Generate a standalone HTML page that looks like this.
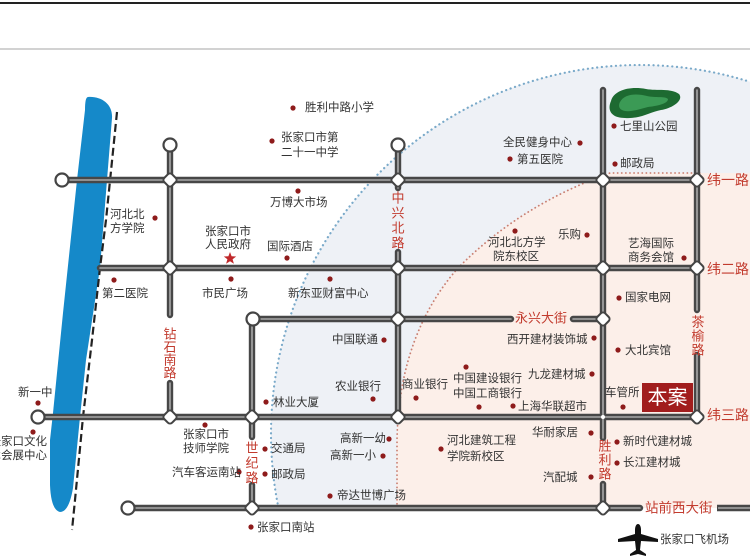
<!DOCTYPE html>
<html><head><meta charset="utf-8">
<style>
html,body{margin:0;padding:0;background:#fff;width:750px;height:560px;overflow:hidden;}
svg{display:block;position:absolute;left:0;top:0;}
.t{font-family:"Liberation Sans","Noto Sans CJK SC",sans-serif;font-size:11.5px;fill:#333;dominant-baseline:central;}
.r{font-family:"Liberation Sans","Noto Sans CJK SC",sans-serif;font-size:13px;fill:#c23b2e;dominant-baseline:central;}
.rv{font-family:"Liberation Sans","Noto Sans CJK SC",sans-serif;font-size:13px;fill:#c23b2e;dominant-baseline:central;text-anchor:middle;}
</style></head>
<body>
<svg width="750" height="560" viewBox="0 0 750 560" xmlns="http://www.w3.org/2000/svg" overflow="hidden">
<rect width="750" height="560" fill="#fff"/>
<!-- header lines -->
<rect x="0" y="2" width="750" height="2" fill="#222"/>
<rect x="0" y="48" width="750" height="2" fill="#d2d2d2"/>

<!-- regions -->
<path d="M278.5,508 A369,369 0 0,1 750,81.8 L750,508 Z" fill="#eef1f6"/>
<path d="M397,508 L397,440 Q399,335 458,268 Q520,205 610,173 L750,173 L750,508 Z" fill="#fcefe9"/>
<path d="M278.5,508 A369,369 0 0,1 750,81.8" fill="none" stroke="#79a9c9" stroke-width="2.2" stroke-linecap="round" stroke-dasharray="0.1 4.6"/>
<path d="M397,508 L397,440 Q399,335 458,268 Q520,205 610,173 L700,173" fill="none" stroke="#c98073" stroke-width="1.8" stroke-linecap="round" stroke-dasharray="0.1 4"/>

<!-- river -->
<path d="M88,97 C101,96 113,104 112,118 L107,180 L100,268 L86,360 L80,417 L73,488 Q69,512 60,512 Q51,510 50,485 L50,440 L53,413 L63,313 L77,180 L85,110 Q85,97 88,97 Z" fill="#1589c9"/>
<polyline points="117,112 106,220 100,268 92,340 83,417 75,500 72,530" fill="none" stroke="#222" stroke-width="2.2" stroke-dasharray="8 4"/>

<!-- park -->
<path d="M611,101 C614,90 630,86 646,89 C657,91 671,88 679,94 C684,100 673,108 661,110 C650,112 641,119 625,118 C611,118 607,110 611,101 Z" fill="#1d6a31"/>
<path d="M620,102 C624,94 636,93 647,96 C656,98 665,96 668,99 C668,104 656,106 648,107 C640,109 632,112 625,111 C619,110 618,106 620,102 Z" fill="#3b9a55"/>

<!-- roads -->
<g fill="none" stroke="#474747" stroke-width="6.4" stroke-linecap="round">
<path d="M62,180 H697 M100,268 H697 M253,319 H511 M573,319 H603 M38,417 H697 M128,508 H640"/>
<path d="M170,145 V315 M170,383 V417 M252,319 V437 M252,485 V508 M398,145 V188 M398,252 V417 M603,90 V438 M603,484 V508 M697,90 V310 M697,355 V417"/>
</g>
<path d="M717,508 H750" fill="none" stroke="#474747" stroke-width="6.4"/>
<g fill="none" stroke="#a9a9a9" stroke-width="1.6" stroke-linecap="round">
<path d="M62,180 H697 M100,268 H697 M253,319 H511 M573,319 H603 M38,417 H697 M128,508 H640"/>
<path d="M170,145 V315 M170,383 V417 M252,319 V437 M252,485 V508 M398,145 V188 M398,252 V417 M603,90 V438 M603,484 V508 M697,90 V310 M697,355 V417"/>
</g>
<path d="M718,508 H750" fill="none" stroke="#a9a9a9" stroke-width="1.6"/>

<!-- end circles -->
<g fill="#fff" stroke="#444" stroke-width="2.2">
<circle cx="62" cy="180" r="6.5"/>
<circle cx="170" cy="145" r="6.5"/>
<circle cx="398" cy="145" r="6.5"/>
<circle cx="253" cy="319" r="6.5"/>
<circle cx="38" cy="417" r="6.5"/>
<circle cx="128" cy="508" r="6.5"/>
</g>
<!-- diamonds -->
<g fill="#fff" stroke="#444" stroke-width="2">
<rect x="-5.5" y="-5.5" width="11" height="11" rx="3" transform="translate(170,180) rotate(45)"/>
<rect x="-5.5" y="-5.5" width="11" height="11" rx="3" transform="translate(398,180) rotate(45)"/>
<rect x="-5.5" y="-5.5" width="11" height="11" rx="3" transform="translate(603,180) rotate(45)"/>
<rect x="-5.5" y="-5.5" width="11" height="11" rx="3" transform="translate(697,180) rotate(45)"/>
<rect x="-5.5" y="-5.5" width="11" height="11" rx="3" transform="translate(170,268) rotate(45)"/>
<rect x="-5.5" y="-5.5" width="11" height="11" rx="3" transform="translate(398,268) rotate(45)"/>
<rect x="-5.5" y="-5.5" width="11" height="11" rx="3" transform="translate(603,268) rotate(45)"/>
<rect x="-5.5" y="-5.5" width="11" height="11" rx="3" transform="translate(697,268) rotate(45)"/>
<rect x="-5.5" y="-5.5" width="11" height="11" rx="3" transform="translate(398,319) rotate(45)"/>
<rect x="-5.5" y="-5.5" width="11" height="11" rx="3" transform="translate(603,319) rotate(45)"/>
<rect x="-5.5" y="-5.5" width="11" height="11" rx="3" transform="translate(170,417) rotate(45)"/>
<rect x="-5.5" y="-5.5" width="11" height="11" rx="3" transform="translate(252,417) rotate(45)"/>
<rect x="-5.5" y="-5.5" width="11" height="11" rx="3" transform="translate(398,417) rotate(45)"/>
<rect x="-5.5" y="-5.5" width="11" height="11" rx="3" transform="translate(697,417) rotate(45)"/>
<rect x="-5.5" y="-5.5" width="11" height="11" rx="3" transform="translate(252,508) rotate(45)"/>
<rect x="-5.5" y="-5.5" width="11" height="11" rx="3" transform="translate(603,508) rotate(45)"/>
</g>
<circle cx="603" cy="417" r="2" fill="#fff"/>

<!-- dots -->
<g fill="#8e1b1b">
<circle cx="293" cy="108" r="2.6"/>
<circle cx="272" cy="141" r="2.6"/>
<circle cx="298" cy="191" r="2.6"/>
<circle cx="155" cy="218" r="2.6"/>
<circle cx="287" cy="258" r="2.6"/>
<circle cx="114" cy="280" r="2.6"/>
<circle cx="231" cy="279" r="2.6"/>
<circle cx="330" cy="279" r="2.6"/>
<circle cx="580" cy="143" r="2.6"/>
<circle cx="510" cy="159" r="2.6"/>
<circle cx="614" cy="126" r="2.6"/>
<circle cx="615" cy="164" r="2.6"/>
<circle cx="515" cy="231" r="2.6"/>
<circle cx="587" cy="235" r="2.6"/>
<circle cx="684" cy="258" r="2.6"/>
<circle cx="619" cy="298" r="2.6"/>
<circle cx="594" cy="338" r="2.6"/>
<circle cx="618" cy="350" r="2.6"/>
<circle cx="384" cy="340" r="2.6"/>
<circle cx="373" cy="399" r="2.6"/>
<circle cx="266" cy="402" r="2.6"/>
<circle cx="416" cy="398" r="2.6"/>
<circle cx="466" cy="367" r="2.6"/>
<circle cx="592" cy="374" r="2.6"/>
<circle cx="479" cy="407" r="2.6"/>
<circle cx="513" cy="406" r="2.6"/>
<circle cx="623" cy="407" r="2.6"/>
<circle cx="38" cy="403" r="2.6"/>
<circle cx="33" cy="432" r="2.6"/>
<circle cx="205" cy="425" r="2.6"/>
<circle cx="239" cy="472" r="2.6"/>
<circle cx="265" cy="449" r="2.6"/>
<circle cx="265" cy="474" r="2.6"/>
<circle cx="389" cy="439" r="2.6"/>
<circle cx="383" cy="456" r="2.6"/>
<circle cx="441" cy="449" r="2.6"/>
<circle cx="591" cy="433" r="2.6"/>
<circle cx="617" cy="442" r="2.6"/>
<circle cx="617" cy="463" r="2.6"/>
<circle cx="591" cy="477" r="2.6"/>
<circle cx="330" cy="496" r="2.6"/>
<circle cx="251" cy="527" r="2.6"/>
</g>
<!-- star -->
<polygon points="230,252 231.6,256.3 236.2,256.5 232.6,259.3 233.9,263.7 230,261.2 226.1,263.7 227.4,259.3 223.8,256.5 228.4,256.3" fill="#c0282a"/>

<!-- labels -->
<text class="t" x="305" y="108">胜利中路小学</text>
<text class="t" x="281" y="138">张家口市第</text>
<text class="t" x="281" y="153">二十一中学</text>
<text class="t" x="270" y="203">万博大市场</text>
<text class="t" x="110" y="215">河北北</text>
<text class="t" x="110" y="229">方学院</text>
<text class="t" x="205" y="232">张家口市</text>
<text class="t" x="205" y="245">人民政府</text>
<text class="t" x="267" y="247">国际酒店</text>
<text class="t" x="102" y="294">第二医院</text>
<text class="t" x="202" y="294">市民广场</text>
<text class="t" x="288" y="294">新东亚财富中心</text>
<text class="t" x="503" y="143">全民健身中心</text>
<text class="t" x="517" y="160">第五医院</text>
<text class="t" x="620" y="127">七里山公园</text>
<text class="t" x="620" y="164">邮政局</text>
<text class="t" x="488" y="243">河北北方学</text>
<text class="t" x="493" y="257">院东校区</text>
<text class="t" x="558" y="235">乐购</text>
<text class="t" x="628" y="244">艺海国际</text>
<text class="t" x="628" y="258">商务会馆</text>
<text class="t" x="625" y="298">国家电网</text>
<text class="t" x="507" y="340">西开建材装饰城</text>
<text class="t" x="625" y="351">大北宾馆</text>
<text class="t" x="332" y="340">中国联通</text>
<text class="t" x="335" y="387">农业银行</text>
<text class="t" x="273" y="403">林业大厦</text>
<text class="t" x="402" y="385">商业银行</text>
<text class="t" x="453" y="379">中国建设银行</text>
<text class="t" x="528" y="375">九龙建材城</text>
<text class="t" x="453" y="394">中国工商银行</text>
<text class="t" x="518" y="407">上海华联超市</text>
<text class="t" x="605" y="393">车管所</text>
<text class="t" x="18" y="393">新一中</text>
<text class="t" x="47" y="442" text-anchor="end">张家口文化</text>
<text class="t" x="47" y="456" text-anchor="end">艺术会展中心</text>
<text class="t" x="183" y="435">张家口市</text>
<text class="t" x="183" y="449">技师学院</text>
<text class="t" x="172" y="473">汽车客运南站</text>
<text class="t" x="271" y="449">交通局</text>
<text class="t" x="271" y="475">邮政局</text>
<text class="t" x="340" y="439">高新一幼</text>
<text class="t" x="330" y="456">高新一小</text>
<text class="t" x="447" y="441">河北建筑工程</text>
<text class="t" x="447" y="457">学院新校区</text>
<text class="t" x="532" y="433">华耐家居</text>
<text class="t" x="623" y="442">新时代建材城</text>
<text class="t" x="623" y="463">长江建材城</text>
<text class="t" x="543" y="478">汽配城</text>
<text class="t" x="337" y="496">帝达世博广场</text>
<text class="t" x="257" y="528">张家口南站</text>
<text class="t" x="660" y="540">张家口飞机场</text>

<!-- road labels -->
<text class="r" x="515" y="318">永兴大街</text>
<text class="r" x="645" y="508" style="font-size:13.5px">站前西大街</text>
<text class="r" x="707" y="180" style="font-size:14px">纬一路</text>
<text class="r" x="707" y="269" style="font-size:14px">纬二路</text>
<text class="r" x="707" y="415" style="font-size:14px">纬三路</text>
<text class="rv" x="170" y="334">钻</text>
<text class="rv" x="170" y="347">石</text>
<text class="rv" x="170" y="360">南</text>
<text class="rv" x="170" y="373">路</text>
<text class="rv" x="398" y="198">中</text>
<text class="rv" x="398" y="213">兴</text>
<text class="rv" x="398" y="228">北</text>
<text class="rv" x="398" y="243">路</text>
<text class="rv" x="252" y="448">世</text>
<text class="rv" x="252" y="463">纪</text>
<text class="rv" x="252" y="478">路</text>
<text class="rv" x="605" y="446">胜</text>
<text class="rv" x="605" y="460">利</text>
<text class="rv" x="605" y="474">路</text>
<text class="rv" x="698" y="322">茶</text>
<text class="rv" x="698" y="336">榆</text>
<text class="rv" x="698" y="350">路</text>

<!-- 本案 -->
<rect x="642" y="383" width="51" height="29" fill="#a11d1d"/>
<text x="667.5" y="398" text-anchor="middle" dominant-baseline="central" style="font-family:'Liberation Sans','Noto Sans CJK SC',sans-serif;font-size:20px;fill:#fff;">本案</text>

<!-- airplane -->
<path d="M638,524 C640,524 641,527 641,530 L641,534 L658,539 L658,542 L641,541 L640,550 L646,554 L646,556 L638,554 L630,556 L630,554 L636,550 L635,541 L618,542 L618,539 L635,534 L635,530 C635,527 636,524 638,524 Z" fill="#111"/>
</svg>
</body></html>
